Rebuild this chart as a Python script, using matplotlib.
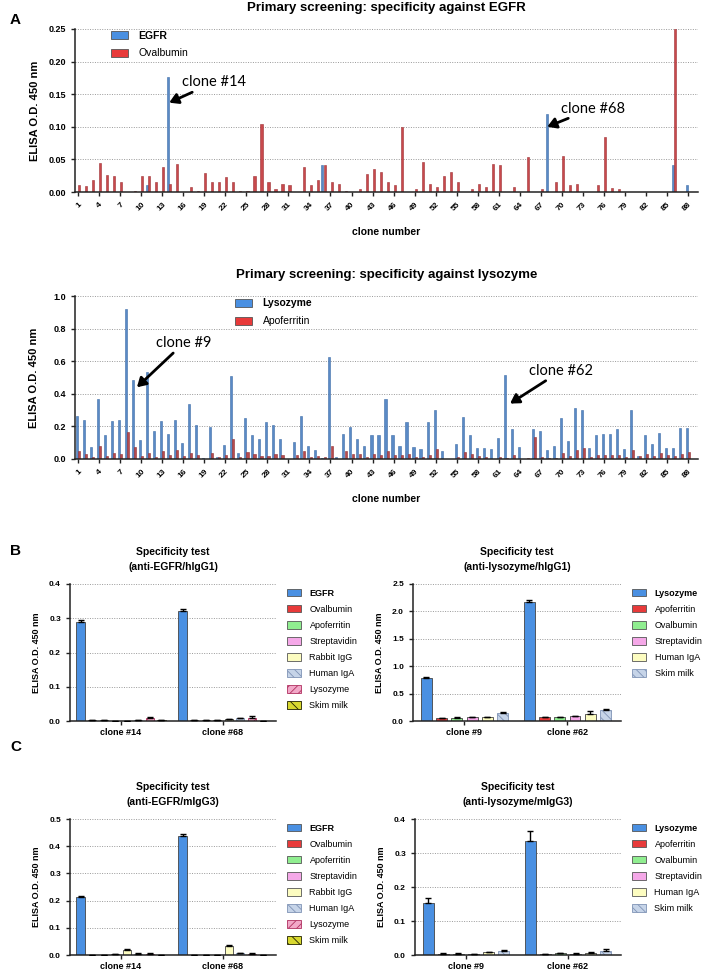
import numpy as np
import matplotlib
matplotlib.use("Agg")
import matplotlib.pyplot as plt
from matplotlib.patches import Patch

plt.rcParams['font.family'] = ['Liberation Sans', 'DejaVu Sans']
plt.rcParams['hatch.linewidth'] = 0.6

# ---------------- data ----------------
clones = np.arange(1, 89)
tick_clones = list(range(1, 89, 3))

egfr_primary = np.zeros(88)
for c, v in {11: 0.010, 14: 0.176, 36: 0.041, 68: 0.120, 86: 0.041, 88: 0.010}.items():
    egfr_primary[c - 1] = v

ovalbumin_primary = [0.010, 0.009, 0.019, 0.044, 0.026, 0.024, 0.016, 0.0, 0.002, 0.024,
                     0.024, 0.016, 0.039, 0.012, 0.043, 0.0, 0.007, 0.002, 0.029, 0.015,
                     0.015, 0.023, 0.015, 0.002, 0.002, 0.025, 0.105, 0.015, 0.005, 0.012,
                     0.010, 0.0, 0.039, 0.010, 0.019, 0.042, 0.015, 0.013, 0.002, 0.0,
                     0.005, 0.027, 0.035, 0.030, 0.016, 0.010, 0.099, 0.0, 0.005, 0.046,
                     0.013, 0.007, 0.024, 0.030, 0.016, 0.0, 0.005, 0.013, 0.007, 0.043,
                     0.041, 0.0, 0.007, 0.0, 0.053, 0.0, 0.004, 0.0, 0.015, 0.055,
                     0.010, 0.012, 0.0, 0.0, 0.010, 0.085, 0.006, 0.005, 0.0, 0.0,
                     0.0, 0.0, 0.0, 0.0, 0.0, 0.25, 0.0, 0.0]

lysozyme_primary = [0.264, 0.239, 0.076, 0.368, 0.149, 0.233, 0.237, 0.920, 0.485, 0.115,
                    0.535, 0.170, 0.233, 0.153, 0.239, 0.098, 0.335, 0.209, 0.004, 0.196,
                    0.010, 0.086, 0.507, 0.037, 0.249, 0.147, 0.123, 0.227, 0.209, 0.123,
                    0.003, 0.104, 0.266, 0.080, 0.055, 0.006, 0.624, 0.012, 0.151, 0.196,
                    0.123, 0.080, 0.149, 0.147, 0.368, 0.147, 0.080, 0.227, 0.072, 0.061,
                    0.227, 0.303, 0.049, 0.0, 0.094, 0.258, 0.149, 0.065, 0.067, 0.063,
                    0.131, 0.515, 0.184, 0.074, 0.002, 0.184, 0.170, 0.053, 0.078, 0.254,
                    0.108, 0.311, 0.299, 0.065, 0.145, 0.151, 0.153, 0.184, 0.059, 0.299,
                    0.016, 0.145, 0.092, 0.162, 0.065, 0.065, 0.190, 0.188]

apoferritin_primary = [0.051, 0.031, 0.010, 0.080, 0.020, 0.037, 0.031, 0.166, 0.074, 0.018,
                       0.037, 0.010, 0.049, 0.025, 0.053, 0.020, 0.037, 0.022, 0.002, 0.037,
                       0.010, 0.025, 0.123, 0.010, 0.043, 0.031, 0.018, 0.018, 0.031, 0.025,
                       0.002, 0.022, 0.049, 0.012, 0.016, 0.010, 0.078, 0.002, 0.049, 0.033,
                       0.031, 0.012, 0.031, 0.022, 0.049, 0.025, 0.022, 0.031, 0.012, 0.010,
                       0.022, 0.059, 0.002, 0.0, 0.010, 0.045, 0.031, 0.016, 0.010, 0.002,
                       0.010, 0.006, 0.025, 0.002, 0.004, 0.135, 0.010, 0.006, 0.006, 0.037,
                       0.018, 0.053, 0.065, 0.010, 0.025, 0.025, 0.025, 0.025, 0.010, 0.057,
                       0.016, 0.033, 0.016, 0.037, 0.025, 0.016, 0.033, 0.041]

# specificity tests
egfr_groups = ["clone #14", "clone #68"]
egfr_antigens = ["EGFR", "Ovalbumin", "Apoferritin", "Streptavidin", "Rabbit IgG",
                 "Human IgA", "Lysozyme", "Skim milk"]
egfr_hIgG1_mean = [[0.288, 0.002, 0.002, 0.001, 0.001, 0.003, 0.009, 0.002],
                   [0.322, 0.003, 0.003, 0.003, 0.006, 0.009, 0.010, 0.001]]
egfr_hIgG1_err = [[0.007, 0.001, 0.001, 0.0, 0.0, 0.001, 0.003, 0.001],
                  [0.005, 0.001, 0.001, 0.001, 0.001, 0.001, 0.004, 0.0]]
egfr_mIgG3_mean = [[0.213, 0.001, 0.001, 0.002, 0.019, 0.005, 0.005, 0.001],
                   [0.437, 0.001, 0.001, 0.0, 0.034, 0.007, 0.005, 0.001]]
egfr_mIgG3_err = [[0.004, 0.0, 0.0, 0.001, 0.002, 0.001, 0.001, 0.0],
                  [0.007, 0.0, 0.0, 0.0, 0.002, 0.001, 0.003, 0.0]]

lys_groups = ["clone #9", "clone #62"]
lys_antigens = ["Lysozyme", "Apoferritin", "Ovalbumin", "Streptavidin", "Human IgA", "Skim milk"]
lys_hIgG1_mean = [[0.79, 0.055, 0.06, 0.065, 0.07, 0.155],
                  [2.18, 0.075, 0.075, 0.09, 0.13, 0.20]]
lys_hIgG1_err = [[0.01, 0.005, 0.005, 0.005, 0.01, 0.01],
                 [0.02, 0.005, 0.005, 0.01, 0.05, 0.015]]
lys_mIgG3_mean = [[0.153, 0.004, 0.004, 0.002, 0.008, 0.012],
                  [0.335, 0.003, 0.005, 0.003, 0.007, 0.013]]
lys_mIgG3_err = [[0.016, 0.001, 0.001, 0.001, 0.002, 0.002],
                 [0.030, 0.001, 0.001, 0.003, 0.002, 0.004]]

# ---------------- styles ----------------
BLUE = "#4A90E2"
RED = "#E83A3A"
GREEN = "#90EE90"
PINK = "#F5A8E8"
YELLOW = "#FCFCC0"
LBLUE = "#C6D4E8"
style_egfr = {
    "EGFR": dict(fc=BLUE, hatch=None, hc=None),
    "Ovalbumin": dict(fc=RED, hatch=None, hc=None),
    "Apoferritin": dict(fc=GREEN, hatch=None, hc=None),
    "Streptavidin": dict(fc=PINK, hatch=None, hc=None),
    "Rabbit IgG": dict(fc=YELLOW, hatch=None, hc=None),
    "Human IgA": dict(fc=LBLUE, hatch="\\\\\\\\", hc="#7F93B5"),
    "Lysozyme": dict(fc="#F2A8C8", hatch="////", hc="#B03060"),
    "Skim milk": dict(fc="#D8D830", hatch="\\\\\\", hc="#202000"),
}
style_lys = {
    "Lysozyme": dict(fc=BLUE, hatch=None, hc=None),
    "Apoferritin": dict(fc=RED, hatch=None, hc=None),
    "Ovalbumin": dict(fc=GREEN, hatch=None, hc=None),
    "Streptavidin": dict(fc=PINK, hatch=None, hc=None),
    "Human IgA": dict(fc=YELLOW, hatch=None, hc=None),
    "Skim milk": dict(fc=LBLUE, hatch="\\\\\\\\", hc="#7F93B5"),
}

fig = plt.figure(figsize=(7.11, 9.73), dpi=100)
W, H = 711.0, 973.0


def add_ax(x0, y0, x1, y1):
    return fig.add_axes([x0 / W, 1 - y1 / H, (x1 - x0) / W, (y1 - y0) / H])


def style_axes(ax, tsize=6.5):
    for s in ("top", "right"):
        ax.spines[s].set_visible(False)
    for s in ("left", "bottom"):
        ax.spines[s].set_linewidth(1.1)
        ax.spines[s].set_color("#222222")
    ax.yaxis.grid(True, linestyle=(0, (1, 1.5)), color="#999999", linewidth=0.7)
    ax.set_axisbelow(True)
    ax.tick_params(axis="both", labelsize=tsize, width=1.0, length=3, color="#222222")
    for lab in ax.get_yticklabels():
        lab.set_fontweight("bold")


# ---------------- primary screening EGFR ----------------
ax1 = add_ax(75, 29, 698, 192)
bw = 0.3
ax1.bar(clones - 0.16, egfr_primary, width=bw, color="#5A8AC6", edgecolor="#3E6CA8", linewidth=0.4, label="EGFR")
ax1.bar(clones + 0.16, ovalbumin_primary, width=bw, color="#C8494C", edgecolor="#9E3034", linewidth=0.4, label="Ovalbumin")
ax1.set_xlim(0.57, 89.4)
ax1.set_ylim(0, 0.25)
ax1.set_yticks(np.arange(0, 0.26, 0.05))
ax1.set_yticklabels([f"{v:.2f}" for v in np.arange(0, 0.26, 0.05)])
ax1.set_xticks(tick_clones)
ax1.set_xticklabels([str(t) for t in tick_clones], rotation=45, ha="right", rotation_mode="anchor",
                    fontweight="bold")
style_axes(ax1)
for lab in ax1.get_xticklabels():
    lab.set_fontweight("bold")
    lab.set_fontsize(6)
ax1.set_ylabel("ELISA O.D. 450 nm", fontsize=8, fontweight="bold", labelpad=6)
ax1.set_xlabel("clone number", fontsize=7.5, fontweight="bold", labelpad=10)
ax1.set_title("Primary screening: specificity against EGFR", fontsize=9.5, fontweight="bold", pad=13)
h = [Patch(facecolor=BLUE, edgecolor="#555555", linewidth=0.6),
     Patch(facecolor=RED, edgecolor="#555555", linewidth=0.6)]
leg = ax1.legend(h, ["EGFR", "Ovalbumin"], loc="upper left", bbox_to_anchor=(0.058, 0.99), frameon=False,
                 fontsize=7.5, handlelength=1.65, handleheight=0.8, labelspacing=0.75, handletextpad=1.0,
                 borderaxespad=0, borderpad=0)
leg.get_texts()[0].set_fontweight("bold")

ann_kw = dict(fontsize=10.5, family=["Lato", "DejaVu Sans"],
              arrowprops=dict(arrowstyle="-|>,head_length=0.5,head_width=0.3", color="black", lw=2.0,
                              shrinkA=0, shrinkB=0))
ax1.annotate("clone #14", xy=(14.0, 0.137), xytext=(15.8, 0.168), va="center", ha="left", **ann_kw)
ax1.annotate("clone #68", xy=(67.9, 0.100), xytext=(69.8, 0.128), va="center", ha="left", **ann_kw)

# ---------------- primary screening lysozyme ----------------
ax2 = add_ax(75, 296, 698, 459)
ax2.bar(clones - 0.16, lysozyme_primary, width=bw, color="#5A8AC6", edgecolor="#3E6CA8", linewidth=0.4)
ax2.bar(clones + 0.16, apoferritin_primary, width=bw, color="#B84A4E", edgecolor="#8E2E32", linewidth=0.4)
ax2.set_xlim(0.57, 89.4)
ax2.set_ylim(0, 1.0)
ax2.set_yticks(np.arange(0, 1.01, 0.2))
ax2.set_yticklabels([f"{v:.1f}" for v in np.arange(0, 1.01, 0.2)])
ax2.set_xticks(tick_clones)
ax2.set_xticklabels([str(t) for t in tick_clones], rotation=45, ha="right", rotation_mode="anchor")
style_axes(ax2)
for lab in ax2.get_xticklabels():
    lab.set_fontweight("bold")
    lab.set_fontsize(6)
ax2.set_ylabel("ELISA O.D. 450 nm", fontsize=8, fontweight="bold", labelpad=10)
ax2.set_xlabel("clone number", fontsize=7.5, fontweight="bold", labelpad=10)
ax2.set_title("Primary screening: specificity against lysozyme", fontsize=9.5, fontweight="bold", pad=13)
leg = ax2.legend(h, ["Lysozyme", "Apoferritin"], loc="upper left", bbox_to_anchor=(0.257, 0.985), frameon=False,
                 fontsize=7.5, handlelength=1.65, handleheight=0.8, labelspacing=0.75, handletextpad=1.0,
                 borderaxespad=0, borderpad=0)
leg.get_texts()[0].set_fontweight("bold")
ax2.annotate("clone #9", xy=(9.4, 0.44), xytext=(12.1, 0.71), va="center", ha="left", **ann_kw)
ax2.annotate("clone #62", xy=(62.6, 0.34), xytext=(65.3, 0.54), va="center", ha="left", **ann_kw)


# ---------------- specificity tests ----------------
def spec_plot(ax, groups, antigens, means, errs, styles, slot, bwidth, ylim, yticks, fmt, title, leg_anchor):
    x = np.arange(len(groups))
    n = len(antigens)
    for j, ag in enumerate(antigens):
        st = styles[ag]
        off = (j - (n - 1) / 2) * slot
        m = [means[g][j] for g in range(len(groups))]
        e = [errs[g][j] for g in range(len(groups))]
        bars = ax.bar(x + off, m, width=bwidth, color=st["fc"], edgecolor="#444444", linewidth=0.6,
                      hatch=st["hatch"], zorder=2)
        if st["hatch"]:
            for b in bars:
                b.set_edgecolor(st["hc"])
        ax.errorbar(x + off, m, yerr=[np.zeros(len(m)), e], fmt="none", ecolor="black",
                    elinewidth=1.0, capsize=2.2, capthick=1.0, zorder=3)
    ax.set_xlim(-0.5, 1.52)
    ax.set_ylim(*ylim)
    ax.set_yticks(yticks)
    ax.set_yticklabels([fmt.format(v) for v in yticks])
    ax.set_xticks(x)
    ax.set_xticklabels(groups, fontweight="bold")
    style_axes(ax, tsize=6)
    for lab in ax.get_xticklabels():
        lab.set_fontweight("bold")
        lab.set_fontsize(6.5)
    ax.tick_params(axis="x", pad=2)
    ax.set_ylabel("ELISA O.D. 450 nm", fontsize=6.5, fontweight="bold", labelpad=6)
    ax.set_title(title, fontsize=7.5, fontweight="bold", pad=10, linespacing=1.6)
    handles = []
    for ag in antigens:
        st = styles[ag]
        handles.append(Patch(facecolor=st["fc"], edgecolor=st["hc"] if st["hatch"] else "#555555",
                             hatch=st["hatch"], linewidth=0.6))
    lg = ax.legend(handles, antigens, loc="upper left", bbox_to_anchor=leg_anchor, frameon=False,
                   fontsize=6.5, handlelength=1.6, handleheight=0.9, labelspacing=0.78, handletextpad=0.9,
                   borderaxespad=0, borderpad=0)
    lg.get_texts()[0].set_fontweight("bold")


axB1 = add_ax(70, 584, 276, 721)
spec_plot(axB1, egfr_groups, egfr_antigens, egfr_hIgG1_mean, egfr_hIgG1_err, style_egfr,
          0.113, 0.082, (0, 0.4), [0, 0.1, 0.2, 0.3, 0.4], "{:.1f}",
          "Specificity test\n(anti-EGFR/hIgG1)", (1.053, 0.965))
axB2 = add_ax(413, 584, 621, 721)
spec_plot(axB2, lys_groups, lys_antigens, lys_hIgG1_mean, lys_hIgG1_err, style_lys,
          0.148, 0.105, (0, 2.5), [0, 0.5, 1.0, 1.5, 2.0, 2.5], "{:.1f}",
          "Specificity test\n(anti-lysozyme/hIgG1)", (1.053, 0.965))
axC1 = add_ax(70, 819, 276, 955)
spec_plot(axC1, egfr_groups, egfr_antigens, egfr_mIgG3_mean, egfr_mIgG3_err, style_egfr,
          0.113, 0.082, (0, 0.5), [0, 0.1, 0.2, 0.3, 0.4, 0.5], "{:.1f}",
          "Specificity test\n(anti-EGFR/mIgG3)", (1.053, 0.965))
axC2 = add_ax(415, 819, 621, 955)
spec_plot(axC2, lys_groups, lys_antigens, lys_mIgG3_mean, lys_mIgG3_err, style_lys,
          0.148, 0.105, (0, 0.4), [0, 0.1, 0.2, 0.3, 0.4], "{:.1f}",
          "Specificity test\n(anti-lysozyme/mIgG3)", (1.053, 0.965))

# panel letters
for letter, ypx in (("A", 20), ("B", 551), ("C", 747)):
    fig.text(10 / W, 1 - ypx / H, letter, fontsize=11, fontweight="bold", va="center", ha="left")

fig.savefig("out.png", dpi=100)
